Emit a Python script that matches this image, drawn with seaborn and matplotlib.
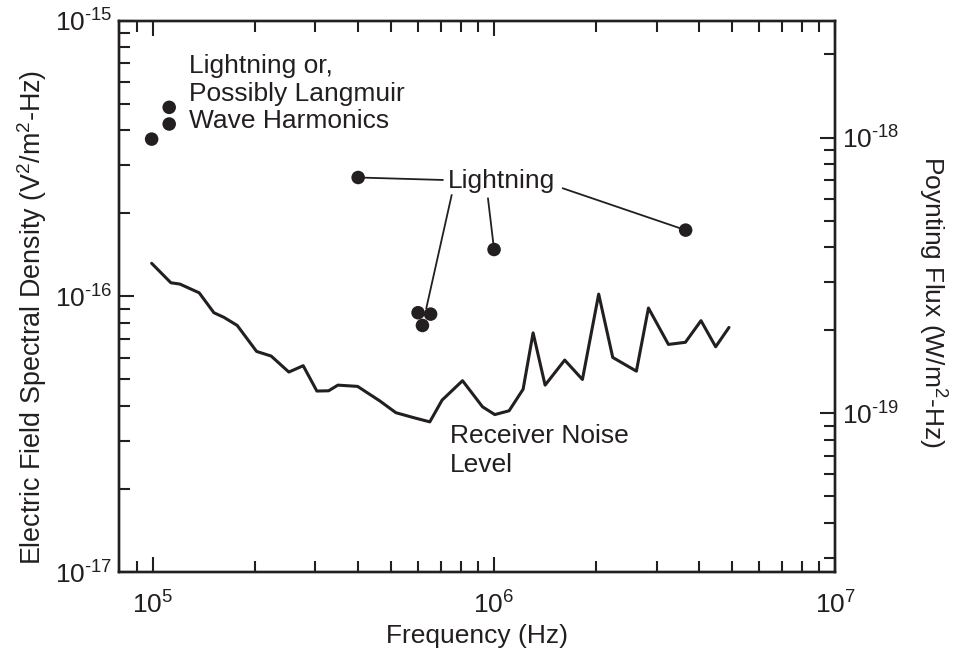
import numpy as np
import pandas as pd
import matplotlib
matplotlib.use("Agg")
import matplotlib.pyplot as plt
import seaborn as sns
from matplotlib.ticker import LogLocator, NullFormatter, FuncFormatter

# ---------------- data ----------------
noise_freq = [9.94e4, 1.132e5, 1.203e5, 1.370e5, 1.513e5, 1.619e5, 1.771e5, 2.018e5,
              2.227e5, 2.509e5, 2.764e5, 3.031e5, 3.281e5, 3.493e5, 3.989e5, 4.636e5,
              5.164e5, 5.802e5, 6.495e5, 7.057e5, 8.10e5, 9.27e5, 1.007e6, 1.109e6,
              1.219e6, 1.304e6, 1.414e6, 1.614e6, 1.819e6, 2.030e6, 2.232e6, 2.618e6,
              2.840e6, 3.250e6, 3.644e6, 4.049e6, 4.470e6, 4.89e6]
noise_psd = [1.319e-16, 1.121e-16, 1.109e-16, 1.031e-16, 8.73e-17, 8.40e-17, 7.85e-17, 6.32e-17,
             6.08e-17, 5.32e-17, 5.61e-17, 4.54e-17, 4.55e-17, 4.77e-17, 4.72e-17, 4.18e-17,
             3.79e-17, 3.64e-17, 3.51e-17, 4.21e-17, 4.95e-17, 3.98e-17, 3.73e-17, 3.85e-17,
             4.61e-17, 7.38e-17, 4.77e-17, 5.88e-17, 5.00e-17, 1.020e-16, 6.01e-17, 5.36e-17,
             9.08e-17, 6.70e-17, 6.82e-17, 8.17e-17, 6.57e-17, 7.72e-17]

langmuir_freq = [9.94e4, 1.119e5, 1.119e5]
langmuir_psd = [3.72e-16, 4.85e-16, 4.22e-16]

lightning_freq = [4.005e5, 1.002e6, 3.65e6, 6.0e5, 6.53e5, 6.18e5]
lightning_psd = [2.70e-16, 1.48e-16, 1.74e-16, 8.73e-17, 8.63e-17, 7.85e-17]

# leader lines: (index of lightning dot, start point in axes fraction near the label, shrink at dot in pt)
leader_targets = [0, 5, 1, 2]
leader_starts = [(0.4521, 0.7112), (0.4643, 0.6840), (0.5150, 0.6780), (0.6194, 0.6962)]
leader_shrink = [0, 12.5, 0, 0]

x_limits = (8e4, 1e7)
y_limits = (1e-17, 1e-15)
Z0 = 377.0  # free-space impedance: Poynting flux = E^2 / Z0

INK = "#231f20"

# ---------------- style ----------------
sns.set_theme(style="ticks")
plt.rcParams["font.family"] = ["Liberation Sans", "DejaVu Sans"]
plt.rcParams["mathtext.fontset"] = "custom"
plt.rcParams["mathtext.rm"] = "Liberation Sans"
plt.rcParams["mathtext.it"] = "Liberation Sans:italic"
plt.rcParams["mathtext.bf"] = "Liberation Sans:bold"
plt.rcParams["axes.unicode_minus"] = False
FS = 19


def make_fmt(lo, hi):
    def pow10_label(v, pos):
        if v < lo * 0.999 or v > hi * 1.001:
            return ""
        e = int(round(np.log10(v)))
        if e < 0:
            return r"$\mathregular{10^{\text{-}%d}}$" % (-e)
        return r"$\mathregular{10^{%d}}$" % e
    return FuncFormatter(pow10_label)


fig = plt.figure(figsize=(9.58, 6.5), dpi=100)
ax = fig.add_axes([0.1247, 0.1196, 0.7469, 0.8486])
ax.set_xscale("log")
ax.set_yscale("log")

noise_df = pd.DataFrame({"freq": noise_freq, "psd": noise_psd})
dots_df = pd.DataFrame({"freq": langmuir_freq + lightning_freq,
                        "psd": langmuir_psd + lightning_psd})

sns.lineplot(data=noise_df, x="freq", y="psd", ax=ax, color=INK, lw=2.2,
             estimator=None, sort=False, zorder=2)
sns.scatterplot(data=dots_df, x="freq", y="psd", ax=ax, color=INK, s=95,
                edgecolor="none", zorder=4)

for idx, start, shr in zip(leader_targets, leader_starts, leader_shrink):
    ax.annotate("", xy=(lightning_freq[idx], lightning_psd[idx]), xycoords="data",
                xytext=start, textcoords="axes fraction",
                arrowprops=dict(arrowstyle="-", color=INK, lw=1.3,
                                shrinkA=0, shrinkB=shr), zorder=3)

ax.text(0.5346, 0.7094, "Lightning", transform=ax.transAxes, ha="center", va="center",
        fontsize=FS, color=INK)
ax.text(0.0976, 0.940, "Lightning or,\nPossibly Langmuir\nWave Harmonics",
        transform=ax.transAxes, ha="left", va="top", fontsize=FS, color=INK, linespacing=1.2)
ax.text(0.462, 0.268, "Receiver Noise\nLevel", transform=ax.transAxes, ha="left", va="top",
        fontsize=FS, color=INK, linespacing=1.22)

ax.set_xlim(*x_limits)
ax.set_ylim(*y_limits)

ax.set_xlabel("Frequency (Hz)", fontsize=FS, color=INK, labelpad=4)
ax.set_ylabel("Electric Field Spectral Density (V$^2$/m$^2$-Hz)", fontsize=19.4, color=INK,
              va="center")
ax.yaxis.set_label_coords(-0.1223, 0.462)

ax.xaxis.set_major_locator(LogLocator(base=10))
ax.xaxis.set_minor_locator(LogLocator(base=10, subs=np.arange(2, 10)))
ax.xaxis.set_major_formatter(make_fmt(*x_limits))
ax.xaxis.set_minor_formatter(NullFormatter())
ax.yaxis.set_major_locator(LogLocator(base=10))
ax.yaxis.set_minor_locator(LogLocator(base=10, subs=np.arange(2, 10)))
ax.yaxis.set_major_formatter(make_fmt(*y_limits))
ax.yaxis.set_minor_formatter(NullFormatter())

ax.tick_params(axis="both", which="both", direction="in", color=INK, labelcolor=INK,
               labelsize=FS, width=1.5)
ax.tick_params(axis="x", which="both", top=True, bottom=True, pad=14)
ax.tick_params(axis="y", which="both", left=True, right=False, pad=5)
ax.tick_params(which="major", length=11)
ax.tick_params(which="minor", length=8)

# right axis: Poynting flux
ax2 = ax.twinx()
ax2.set_yscale("log")
r_limits = (y_limits[0] / Z0, y_limits[1] / Z0)
ax2.set_ylim(*r_limits)
ax2.yaxis.set_major_locator(LogLocator(base=10))
ax2.yaxis.set_minor_locator(LogLocator(base=10, subs=np.arange(2, 10)))
ax2.yaxis.set_major_formatter(make_fmt(*r_limits))
ax2.yaxis.set_minor_formatter(NullFormatter())
ax2.tick_params(axis="y", which="both", direction="in", color=INK, labelcolor=INK,
                labelsize=FS, width=1.5, pad=5)
ax2.tick_params(which="major", length=11)
ax2.tick_params(which="minor", length=8)
ax2.set_ylabel("Poynting Flux (W/m$^2$-Hz)", fontsize=FS, color=INK, rotation=270,
               va="center")
ax2.yaxis.set_label_coords(1.1356, 0.49)

for a in (ax, ax2):
    for sp in a.spines.values():
        sp.set_linewidth(1.7)
        sp.set_color(INK)

fig.savefig("out.png", dpi=100)
